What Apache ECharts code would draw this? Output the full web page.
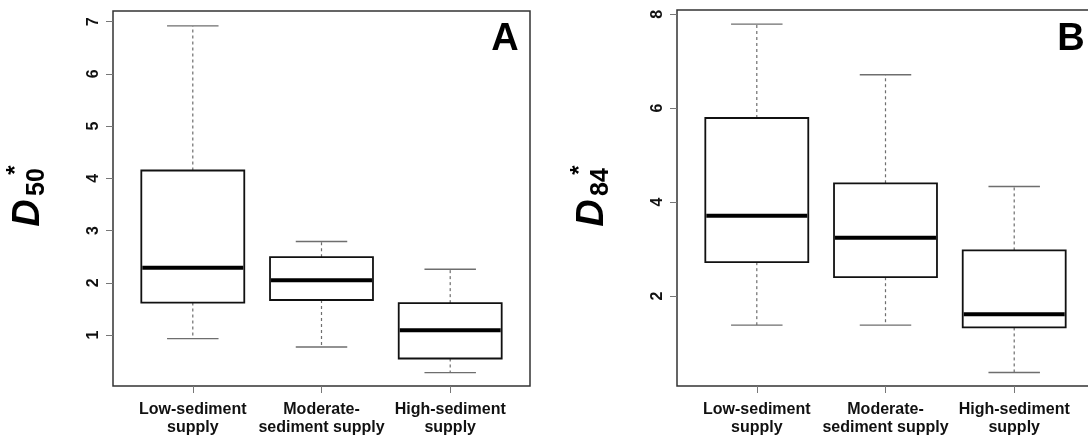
<!DOCTYPE html>
<html>
<head>
<meta charset="utf-8">
<script src="https://cdn.jsdelivr.net/npm/echarts@6/dist/echarts.min.js"></script>
<style>
    html, body { margin: 0; padding: 0; background: #fff; }
    #chart { width: 1088px; height: 443px; }
</style>
</head>
<body>
<div id="chart"></div>
<script>
// categories on the x axis (positions 1, 2, 3)
const categories = ['Low-sediment\nsupply', 'Moderate-\nsediment supply', 'High-sediment\nsupply'];
const catPositions = [1, 2, 3];

// boxplot stats per category: [lower whisker, Q1, median, Q3, upper whisker]
const d50Stats = [
    [0.93, 1.62, 2.29, 4.15, 6.92],
    [0.77, 1.67, 2.05, 2.49, 2.79],
    [0.28, 0.55, 1.09, 1.61, 2.26]
];
const d84Stats = [
    [1.38, 2.72, 3.71, 5.79, 7.79],
    [1.38, 2.40, 3.24, 4.40, 6.71],
    [0.37, 1.33, 1.61, 2.97, 4.33]
];

const d50Ticks = [1, 2, 3, 4, 5, 6, 7];
const d84Ticks = [2, 4, 6, 8];

const chart = echarts.init(document.getElementById('chart'));

const FONT = '"Liberation Sans", Arial, sans-serif';

function boxItem(params, api) {
    const x = api.value(0);
    const lo = api.coord([x, api.value(1)]);
    const q1 = api.coord([x, api.value(2)]);
    const med = api.coord([x, api.value(3)]);
    const q3 = api.coord([x, api.value(4)]);
    const hi = api.coord([x, api.value(5)]);
    const boxW = api.size([0.8, 0])[0];
    const capW = api.size([0.4, 0])[0];
    const cx = lo[0];
    const whisker = { stroke: '#6e6e6e', lineWidth: 1.2, lineDash: [3, 3] };
    const cap = { stroke: '#6e6e6e', lineWidth: 1.4 };
    return {
        type: 'group',
        children: [
            { type: 'line', shape: { x1: cx, y1: q3[1], x2: cx, y2: hi[1] }, style: whisker },
            { type: 'line', shape: { x1: cx, y1: q1[1], x2: cx, y2: lo[1] }, style: whisker },
            { type: 'line', shape: { x1: cx - capW / 2, y1: hi[1], x2: cx + capW / 2, y2: hi[1] }, style: cap },
            { type: 'line', shape: { x1: cx - capW / 2, y1: lo[1], x2: cx + capW / 2, y2: lo[1] }, style: cap },
            {
                type: 'rect',
                shape: { x: cx - boxW / 2, y: q3[1], width: boxW, height: q1[1] - q3[1] },
                style: { fill: '#fff', stroke: '#111', lineWidth: 1.8 }
            },
            {
                type: 'line',
                shape: { x1: cx - boxW / 2 + 1, y1: med[1], x2: cx + boxW / 2 - 1, y2: med[1] },
                style: { stroke: '#000', lineWidth: 4 }
            }
        ]
    };
}

function toData(stats) {
    return stats.map((s, i) => [catPositions[i]].concat(s));
}

function xAxis(gridIndex) {
    return {
        type: 'value',
        gridIndex: gridIndex,
        min: 0.38,
        max: 3.62,
        axisLine: { show: false },
        splitLine: { show: false },
        axisTick: { show: true, length: 7, customValues: catPositions, lineStyle: { color: '#777', width: 1 } },
        axisLabel: {
            customValues: catPositions,
            formatter: v => categories[Math.round(v) - 1],
            fontFamily: FONT, fontWeight: 'bold', fontSize: 16, color: '#111',
            lineHeight: 18, margin: 15
        }
    };
}

function yAxis(gridIndex, min, max, ticks) {
    return {
        type: 'value',
        gridIndex: gridIndex,
        min: min,
        max: max,
        axisLine: { show: false },
        splitLine: { show: false },
        axisTick: { show: true, length: 7, customValues: ticks, lineStyle: { color: '#777', width: 1 } },
        axisLabel: {
            customValues: ticks,
            rotate: 90,
            fontFamily: FONT, fontWeight: 'bold', fontSize: 16, color: '#111',
            margin: 11
        }
    };
}

function rotText(x, y, text, size, italic) {
    return {
        type: 'text',
        x: x, y: y,
        rotation: Math.PI / 2,
        style: {
            text: text,
            font: (italic ? 'italic ' : '') + 'bold ' + size + 'px ' + FONT,
            fill: '#000',
            align: 'center',
            verticalAlign: 'middle'
        }
    };
}

const option = {
    animation: false,
    backgroundColor: '#fff',
    grid: [
        { left: 113, top: 11, width: 417, height: 375, show: true, borderColor: '#333', borderWidth: 1.5, backgroundColor: 'transparent', outerBoundsMode: 'none' },
        { left: 677, top: 10, width: 417, height: 376, show: true, borderColor: '#333', borderWidth: 1.5, backgroundColor: 'transparent', outerBoundsMode: 'none' }
    ],
    xAxis: [xAxis(0), xAxis(1)],
    yAxis: [yAxis(0, 0.023, 7.205, d50Ticks), yAxis(1, 0.083, 8.09, d84Ticks)],
    series: [
        { type: 'custom', xAxisIndex: 0, yAxisIndex: 0, renderItem: boxItem, data: toData(d50Stats), encode: { x: 0, y: [1, 2, 3, 4, 5] } },
        { type: 'custom', xAxisIndex: 1, yAxisIndex: 1, renderItem: boxItem, data: toData(d84Stats), encode: { x: 0, y: [1, 2, 3, 4, 5] } }
    ],
    graphic: [
        // panel letters
        { type: 'text', x: 505, y: 40, style: { text: 'A', font: 'bold 38px ' + FONT, fill: '#000', align: 'center', verticalAlign: 'middle' } },
        { type: 'text', x: 1071, y: 40, style: { text: 'B', font: 'bold 38px ' + FONT, fill: '#000', align: 'center', verticalAlign: 'middle' } },
        // y axis titles
        rotText(29, 213, 'D', 38, true),
        rotText(37, 182, '50', 25, false),
        rotText(16, 170, '*', 24, false),
        rotText(593, 213, 'D', 38, true),
        rotText(601, 182, '84', 25, false),
        rotText(580, 170, '*', 24, false)
    ]
};

chart.setOption(option);
</script>
</body>
</html>
